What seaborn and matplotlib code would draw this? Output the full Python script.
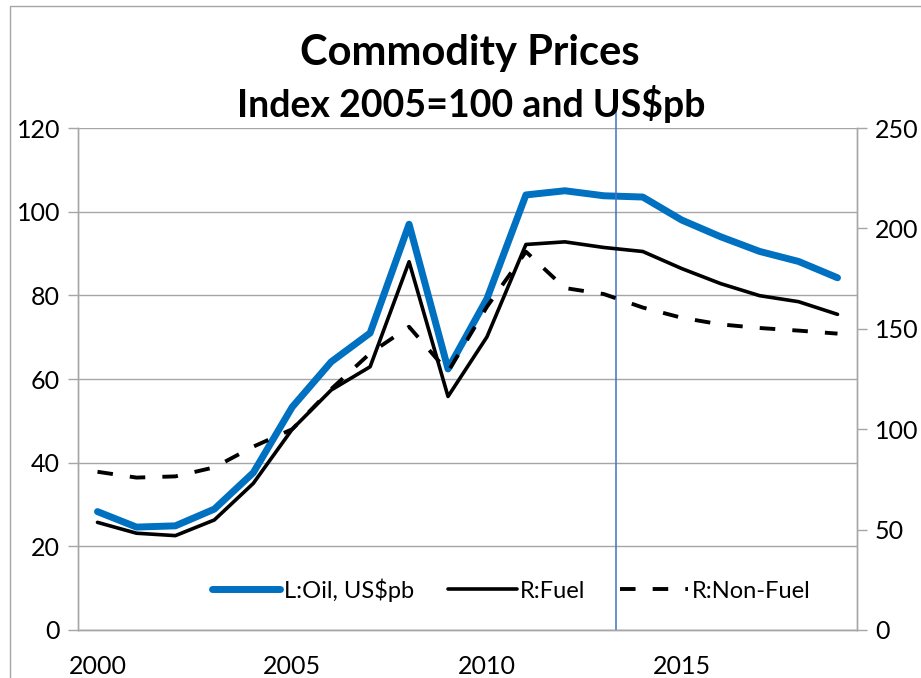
import numpy as np
import pandas as pd
import matplotlib
matplotlib.use("Agg")
import matplotlib.pyplot as plt
import seaborn as sns
from matplotlib.patches import Rectangle
from matplotlib.ticker import FixedLocator, NullFormatter

# data
years = list(range(2000, 2020))
oil = [28.3, 24.6, 24.9, 28.9, 37.6, 53.3, 64.1, 71.0, 97.0, 62.4,
       79.2, 104.0, 105.0, 103.8, 103.5, 98.0, 94.0, 90.5, 88.1, 84.2]
fuel = [53.6, 48.2, 47.0, 54.8, 73.0, 100.0, 119.5, 131.1, 183.4, 116.3,
        146.0, 192.0, 193.3, 190.5, 188.5, 180.0, 172.5, 166.5, 163.5, 157.2]
non_fuel = [78.8, 75.9, 76.5, 81.0, 91.3, 100.0, 120.0, 137.8, 151.0, 128.6,
            161.0, 188.4, 170.3, 167.3, 160.6, 155.5, 152.2, 150.4, 149.1, 147.6]
year_labels = [2000, 2005, 2010, 2015]
left_ticks = [0, 20, 40, 60, 80, 100, 120]
right_ticks = [0, 50, 100, 150, 200, 250]
split_year = 2013.3

df = pd.DataFrame({"year": years, "oil": oil, "fuel": fuel, "non_fuel": non_fuel})

sns.set_theme(style="white")
plt.rcParams["font.family"] = ["Lato", "DejaVu Sans"]
plt.rcParams["text.color"] = "black"

grey = "#A6A6A6"
blue = "#0070C0"

fig = plt.figure(figsize=(9.21, 6.78), dpi=100)
ax = fig.add_axes([0.0847, 0.0708, 0.8458, 0.7404])
ax2 = ax.twinx()

sns.lineplot(data=df, x="year", y="oil", ax=ax, color=blue, lw=5,
             label="L:Oil, US$pb", legend=False, solid_capstyle="round")
sns.lineplot(data=df, x="year", y="fuel", ax=ax2, color="black", lw=2.6,
             label="R:Fuel", legend=False)
sns.lineplot(data=df, x="year", y="non_fuel", ax=ax2, color="black", lw=2.8,
             label="R:Non-Fuel", legend=False, dashes=False)
ax2.lines[-1].set_dashes((4, 4.4))

ax.set_xlim(1999.5, 2019.5)
ax.set_ylim(0, 120)
ax2.set_ylim(0, 250)
ax.set_yticks(left_ticks)
ax2.set_yticks(right_ticks)
ax.set_xticks(year_labels)
ax.xaxis.set_minor_locator(FixedLocator(np.arange(1999.5, 2020, 1)))
ax.xaxis.set_minor_formatter(NullFormatter())

ax.grid(axis="y", color=grey, lw=1)
ax.set_axisbelow(True)
for a in (ax, ax2):
    a.set_xlabel("")
    a.set_ylabel("")
    for s in a.spines.values():
        s.set_color(grey)
        s.set_linewidth(1)
    a.spines["top"].set_visible(False)

ax.tick_params(axis="x", which="major", length=0, labelsize=18, pad=18, labelcolor="black")
ax.tick_params(axis="x", which="minor", length=7, color=grey, width=1, direction="out")
ax.tick_params(axis="y", left=True, length=7, color=grey, width=1, labelsize=18, pad=6,
               labelcolor="black")
ax2.tick_params(axis="y", right=True, length=7, color=grey, width=1, labelsize=18, pad=6,
                labelcolor="black")

# vertical marker between actuals and projections
ax.axvline(split_year, ymin=0, ymax=1.05, color="#4472C4", lw=1.1, clip_on=False, zorder=5)

handles = ax.get_lines()[:1] + ax2.get_lines()
ax.legend(handles=handles, labels=["L:Oil, US$pb", "R:Fuel", "R:Non-Fuel"],
          ncol=3, loc="center", bbox_to_anchor=(0.556, 0.08), frameon=False,
          fontsize=17, handlelength=2.9, handletextpad=0.15, columnspacing=1.45,
          labelcolor="black")

fig.text(0.51, 0.922, "Commodity Prices", ha="center", va="center",
         fontsize=30, fontweight="bold", color="black")
fig.text(0.512, 0.846, "Index 2005=100 and US$pb", ha="center", va="center",
         fontsize=27, fontweight="bold", color="black")

fig.patches.append(Rectangle((10 / 921, -0.1), 1.2, 1.1 - 6 / 678, transform=fig.transFigure,
                             fill=False, edgecolor=grey, lw=1))

fig.savefig("out.png", dpi=100)
